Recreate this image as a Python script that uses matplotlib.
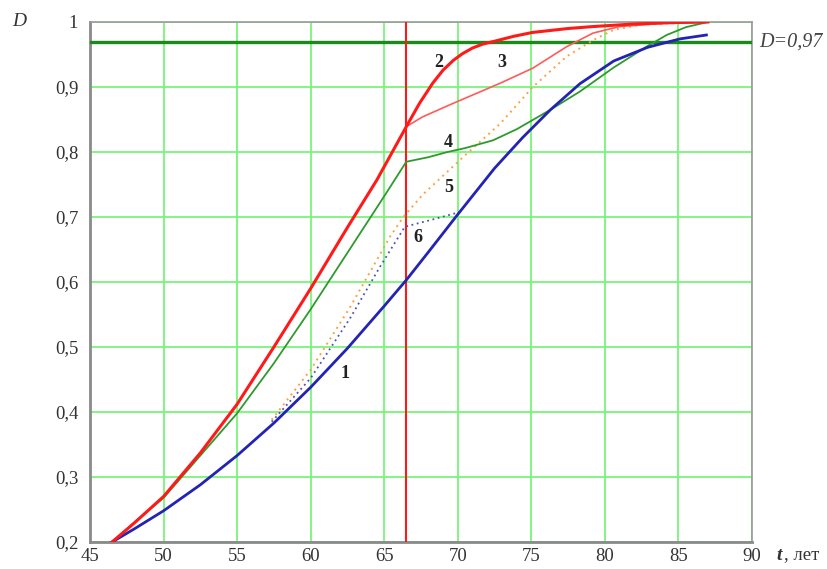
import matplotlib
matplotlib.use("Agg")
import matplotlib.pyplot as plt

plt.rcParams["font.family"] = ["Liberation Serif", "DejaVu Serif"]

# ── Curve data (t, years; D) ─────────────────────────────────────
T1 = [46.5, 48, 50, 52.5, 55, 57.5, 60, 62.5, 65, 66.5, 68, 70, 72.5, 74.4,
      76.3, 78.3, 80.6, 82.9, 85.1, 86.9]
D1 = [0.2, 0.22, 0.248, 0.288, 0.333, 0.383, 0.438, 0.498, 0.563, 0.603, 0.646,
      0.704, 0.775, 0.822, 0.865, 0.905, 0.94, 0.961, 0.974, 0.98]

T2 = [46.5, 48, 50, 52.5, 55, 57.5, 60, 62.5, 64.5, 66.5, 67.4, 68.3, 69,
      69.7, 70.3, 71.0, 71.7, 72.6, 73.8, 75.1, 77.5, 79.2, 82, 84.5, 87]
D2 = [0.2, 0.229, 0.27, 0.337, 0.412, 0.5, 0.59, 0.684, 0.757, 0.839, 0.875,
      0.906, 0.926, 0.941, 0.951, 0.96, 0.966, 0.971, 0.978, 0.984, 0.99,
      0.993, 0.997, 0.999, 1.0]

T3 = [66.5, 67.6, 69.7, 72.9, 75.1, 77.4, 79.2, 81, 84, 87]
D3 = [0.839, 0.854, 0.875, 0.906, 0.929, 0.962, 0.983, 0.993, 0.998, 1.0]

T4 = [46.5, 48, 50, 52.5, 55, 57.5, 60, 62.5, 65, 66.5, 68, 69.3, 70.5, 72.4,
      74, 76.3, 78.3, 80.6, 82.9, 84.2, 85.5, 87]
D4 = [0.2, 0.23, 0.268, 0.333, 0.398, 0.475, 0.558, 0.645, 0.732, 0.785,
      0.792, 0.8, 0.806, 0.818, 0.835, 0.865, 0.893, 0.93, 0.963, 0.98,
      0.992, 1.0]

T5 = [57.35, 60, 62.7, 65.4, 66.3, 67.6, 70.4, 72.9, 75.1, 77.4, 79.2, 80.6,
      82.5, 87]
D5 = [0.388, 0.465, 0.562, 0.67, 0.70, 0.734, 0.793, 0.844, 0.9, 0.947, 0.972,
      0.988, 0.996, 1.0]

T6 = [57.35, 60, 62.7, 64.7, 66.4, 68.1, 70.2]
D6 = [0.385, 0.452, 0.545, 0.623, 0.685, 0.695, 0.708]

LEVEL = 0.97
T_CUT = 66.5

CURVE_LABELS = ["1", "2", "3", "4", "5", "6"]
LABEL_T = [62.35, 68.7, 73.0, 69.35, 69.35, 67.3]
LABEL_D = [0.46, 0.937, 0.937, 0.814, 0.746, 0.669]

X_TICKS = [45, 50, 55, 60, 65, 70, 75, 80, 85, 90]
Y_TICKS = [0.2, 0.3, 0.4, 0.5, 0.6, 0.7, 0.8, 0.9, 1.0]
Y_TICK_LABELS = ["0,2", "0,3", "0,4", "0,5", "0,6", "0,7", "0,8", "0,9", "1"]

# ── Figure ───────────────────────────────────────────────────────
fig = plt.figure(figsize=(8.27, 5.69), dpi=100)
ax = fig.add_axes([90 / 827, 27 / 569, 662 / 827, 520 / 569])

ax.set_xlim(45, 90)
ax.set_ylim(0.2, 1.0)
ax.set_xticks(X_TICKS)
ax.set_yticks(Y_TICKS)
ax.set_yticklabels(Y_TICK_LABELS)
ax.tick_params(length=0, labelsize=13.5, labelcolor="#333333")
ax.tick_params(axis="y", pad=8.5)
ax.tick_params(axis="x", pad=4)
ax.grid(True, color="#78f478", linewidth=1.3, zorder=0)

for side in ["left", "bottom"]:
    ax.spines[side].set_color("#8a8a8a")
    ax.spines[side].set_linewidth(2.0)
for side in ["top", "right"]:
    ax.spines[side].set_color("#9a9a9a")
    ax.spines[side].set_linewidth(1.2)

ax.axhline(LEVEL, color="#1a8a1a", linewidth=2.4, zorder=3)
ax.axvline(T_CUT, color="#ff1a1a", linewidth=1.5, zorder=3)

ax.plot(T6, D6, color="#5050b0", linewidth=1.3, linestyle=(0, (1, 2)), zorder=4)
ax.plot(T5, D5, color="#ffa040", linewidth=1.4, linestyle=(0, (1, 2.2)), zorder=4)
ax.plot(T4, D4, color="#2e9a2e", linewidth=1.3, zorder=5)
ax.plot(T3, D3, color="#ff5a5a", linewidth=1.2, zorder=5)
ax.plot(T1, D1, color="#2323b4", linewidth=2.0, zorder=6)
ax.plot(T2, D2, color="#ff1a1a", linewidth=2.2, zorder=7)

for lab, t, d in zip(CURVE_LABELS, LABEL_T, LABEL_D):
    ax.text(t, d, lab, fontsize=13, fontweight="bold", color="#222222",
            ha="center", va="center", zorder=8)

fig.text(12 / 827, 1 - 22 / 569, "D", fontsize=14, style="italic",
         color="#333333", ha="left", va="center")
fig.text(759 / 827, 1 - 42 / 569, "D=0,97", fontsize=14.5, style="italic",
         color="#444444", ha="left", va="center")
fig.text(776 / 827, 1 - 555 / 569, "t", fontsize=14, style="italic",
         fontweight="bold", color="#333333", ha="left", va="center")
fig.text(784 / 827, 1 - 555 / 569, ", лет", fontsize=13.5,
         color="#333333", ha="left", va="center")

fig.savefig("out.png", dpi=100)
